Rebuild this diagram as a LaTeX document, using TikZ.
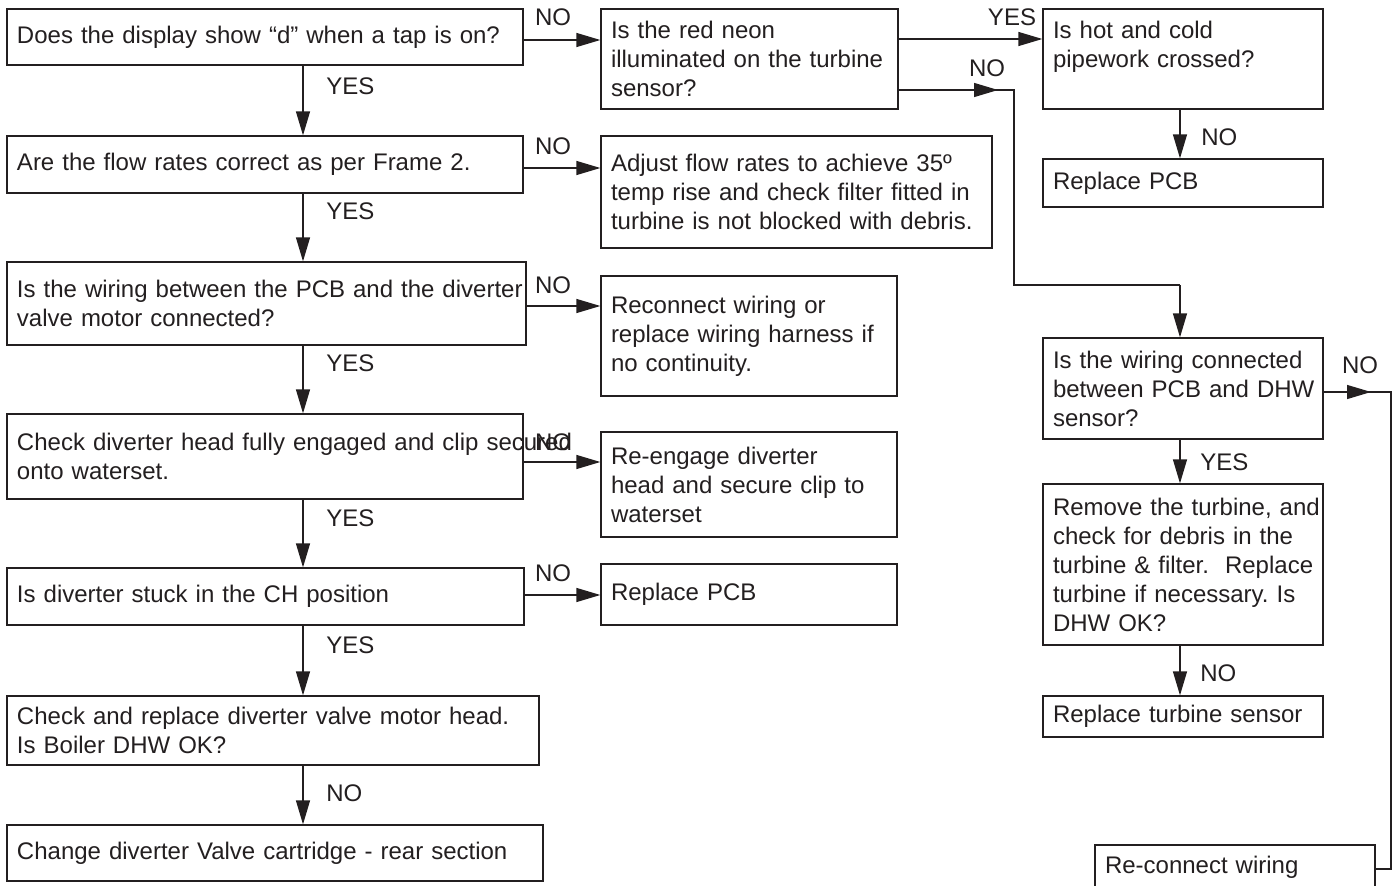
\documentclass[tikz,border=0pt]{standalone}
\usepackage{fontspec}
\setmainfont{Liberation Sans}
\usetikzlibrary{arrows.meta}
\definecolor{lc}{RGB}{35,31,32}
\newcommand{\boxfont}{\fontsize{12}{14.5}\selectfont}
\frenchspacing
\begin{document}
\begin{tikzpicture}[x=0.5pt,y=-0.5pt,
  box/.style={draw=lc, line width=0.65pt, align=left, inner xsep=5pt, inner ysep=0pt, font=\boxfont, text=lc},
  arr/.style={draw=lc, line width=0.65pt, -{Triangle[length=12pt,width=7pt]}},
  ln/.style={draw=lc, line width=0.65pt},
  lbl/.style={font=\boxfont, inner sep=0pt, text=lc}]
\useasboundingbox (0,0) rectangle (1399,885);
\clip (0,0) rectangle (1399,885);
\fill[white] (0,0) rectangle (1399,885);

% left column
\node[box, minimum width=258pt, minimum height=28pt, text width=248pt] (B1) at (265,37) {\mbox{Does the display show “d” when a tap is on?}};
\node[box, minimum width=258pt, minimum height=28.5pt, text width=248pt] (B2) at (265,164.5) {\mbox{Are the flow rates correct as per Frame 2.}};
\node[box, minimum width=259.5pt, minimum height=41.5pt, text width=249.5pt] (B3) at (266.5,303.5) {\mbox{Is the wiring between the PCB and the diverter}\\\mbox{valve motor connected?}};
\node[box, minimum width=258pt, minimum height=42.5pt, text width=248pt] (B4) at (265,456.5) {\mbox{Check diverter head fully engaged and clip secured}\\\mbox{onto waterset.}};
\node[box, minimum width=258.5pt, minimum height=28.5pt, text width=248.5pt] (B5) at (265.5,596.5) {\mbox{Is diverter stuck in the CH position}};
\node[box, minimum width=266pt, minimum height=34.5pt, text width=256pt] (B6) at (273,730.5) {\mbox{Check and replace diverter valve motor head.}\\\mbox{Is Boiler DHW OK?}};
\node[box, minimum width=268pt, minimum height=28pt, text width=258pt] (B7) at (275,853) {\mbox{Change diverter Valve cartridge - rear section}};

% middle column
\node[box, minimum width=148.5pt, minimum height=50pt, text width=138.5pt] (M1) at (749.5,59) {\mbox{Is the red neon}\\\mbox{illuminated on the turbine}\\\mbox{sensor?}};
\node[box, minimum width=195.5pt, minimum height=56pt, text width=185.5pt] (M2) at (796.5,192) {\mbox{Adjust flow rates to achieve 35º}\\\mbox{temp rise and check filter fitted in}\\\mbox{turbine is not blocked with debris.}};
\node[box, minimum width=148pt, minimum height=60pt, text width=138pt] (M3) at (749,336) {\mbox{Reconnect wiring or}\\\mbox{replace wiring harness if}\\\mbox{no continuity.}};
\node[box, minimum width=148pt, minimum height=52.5pt, text width=138pt] (M4) at (749,484.5) {\mbox{Re-engage diverter}\\\mbox{head and secure clip to}\\\mbox{waterset}};
\node[box, minimum width=148pt, minimum height=30.5pt, text width=138pt] (M5) at (749,594.5) {\mbox{Replace PCB}};

% right column
\node[box, minimum width=140pt, minimum height=50pt, text width=130pt] (R1) at (1183,59) {\mbox{Is hot and cold}\\\mbox{pipework crossed?}\\\mbox{}};
\node[box, minimum width=140pt, minimum height=24pt, text width=130pt] (R2) at (1183,183) {\mbox{Replace PCB}};
\node[box, minimum width=140pt, minimum height=50.5pt, text width=130pt] (R3) at (1183,388.5) {\mbox{Is the wiring connected}\\\mbox{between PCB and DHW}\\\mbox{sensor?}};
\node[box, minimum width=140pt, minimum height=80.5pt, text width=130pt] (R4) at (1183,564.5) {\mbox{Remove the turbine, and}\\\mbox{check for debris in the}\\\mbox{turbine \& filter.~ Replace}\\\mbox{turbine if necessary. Is}\\\mbox{DHW OK?}};
\node[box, minimum width=140pt, minimum height=20.5pt, text width=130pt] (R5) at (1183,716.5) {\mbox{Replace turbine sensor}};
\node[box, minimum width=140pt, minimum height=22.5pt, text width=130pt] (R6) at (1235,867.5) {\mbox{Re-connect wiring}};

% helper coordinates
\coordinate (xl) at (303,0);
\coordinate (xr) at (1180,0);
\coordinate (h1) at (0,40);
\coordinate (h2) at (0,168);
\coordinate (h3) at (0,306);
\coordinate (h4) at (0,462);
\coordinate (h5) at (0,595);
\coordinate (hy) at (0,39);
\coordinate (hn) at (0,90);
\coordinate (hr) at (0,392);
\coordinate (n1) at (998,90);
\coordinate (n2) at (1014,90);
\coordinate (n3) at (1014,285);
\coordinate (n4) at (1180,285);
\coordinate (r1) at (1371,392);
\coordinate (r2) at (1391,392);
\coordinate (r3) at (1391,869);

% left vertical connectors
\draw[arr] (B1.south -| xl) -- (B2.north -| xl);
\draw[arr] (B2.south -| xl) -- (B3.north -| xl);
\draw[arr] (B3.south -| xl) -- (B4.north -| xl);
\draw[arr] (B4.south -| xl) -- (B5.north -| xl);
\draw[arr] (B5.south -| xl) -- (B6.north -| xl);
\draw[arr] (B6.south -| xl) -- (B7.north -| xl);

% horizontal NO connectors
\draw[arr] (B1.east |- h1) -- (M1.west |- h1);
\draw[arr] (B2.east |- h2) -- (M2.west |- h2);
\draw[arr] (B3.east |- h3) -- (M3.west |- h3);
\draw[arr] (B4.east |- h4) -- (M4.west |- h4);
\draw[arr] (B5.east |- h5) -- (M5.west |- h5);

% middle to right
\draw[arr] (M1.east |- hy) -- (R1.west |- hy);
\draw[ln] (M1.east |- hn) -- (n2) -- (n3) -- (n4);
\draw[arr] (M1.east |- hn) -- (n1);
\draw[arr] (n4) -- (R3.north -| n4);

% right vertical connectors
\draw[arr] (R1.south -| xr) -- (R2.north -| xr);
\draw[arr] (R3.south -| xr) -- (R4.north -| xr);
\draw[arr] (R4.south -| xr) -- (R5.north -| xr);

% R3 NO route
\draw[ln] (R3.east |- hr) -- (r2) -- (r3) -- (R6.east |- r3);
\draw[arr] (R3.east |- hr) -- (r1);

% labels
\node[lbl, anchor=west] (lY1) at (326,86) {YES};
\node[lbl, anchor=west] (lY2) at (326,211) {YES};
\node[lbl, anchor=west] (lY3) at (326,363) {YES};
\node[lbl, anchor=west] (lY4) at (326,518) {YES};
\node[lbl, anchor=west] (lY5) at (326,645) {YES};
\node[lbl, anchor=west] (lN6) at (326,793) {NO};
\node[lbl] (lN1) at (553,17) {NO};
\node[lbl] (lN2) at (553,146) {NO};
\node[lbl] (lN3) at (553,285) {NO};
\node[lbl] (lN4) at (553,442) {NO};
\node[lbl] (lN5) at (553,573) {NO};
\node[lbl] (lYM) at (1012,17) {YES};
\node[lbl] (lNM) at (987,68) {NO};
\node[lbl] (lNR) at (1360,365) {NO};
\node[lbl, anchor=west] (lNR1) at (1201,137) {NO};
\node[lbl, anchor=west] (lYR3) at (1200,462) {YES};
\node[lbl, anchor=west] (lNR4) at (1200,673) {NO};
\end{tikzpicture}
\end{document}
